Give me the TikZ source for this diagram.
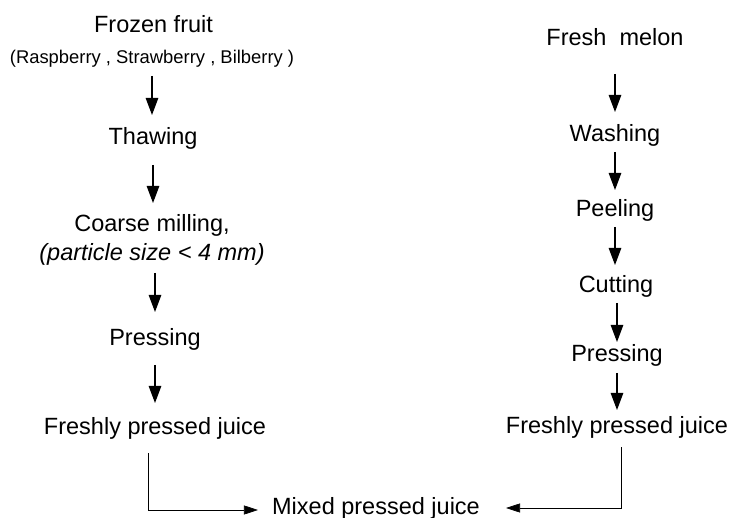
\documentclass[tikz,border=0pt]{standalone}
\usepackage{fontspec}
\setmainfont{Liberation Sans}
\usetikzlibrary{positioning,arrows.meta}

\begin{document}
\begin{tikzpicture}[x=1pt,y=-1pt,
	stage/.style={
	  font=\fontsize{23.5}{26}\selectfont,
	  inner sep=0pt,
	  anchor=base
	},
	small/.style={
	  stage,
	  font=\fontsize{18.4}{20}\selectfont
	},
	flow/.style={
	  -{Triangle[width=12.5pt,length=17pt]},
	  line width=1.1pt
	},
	link/.style={
	  -{Triangle[width=9pt,length=14pt]},
	  line width=0.6pt
	}]

	\useasboundingbox (0,0) rectangle (731,518);

	% fruit line
	\node[stage] (Frozen) at (153.5,33) {Frozen fruit};
	\node[small] (Berries) at (152,64) {(Raspberry , Strawberry , Bilberry )};
	\node[stage] (Thaw) at (153,145) {Thawing};
	\node[stage] (Mill) at (152,232) {Coarse milling,};
	\node[stage] (Size) at (152,261) {\itshape (particle size < 4 mm)};
	\node[stage] (PressL) at (155,346) {Pressing};
	\node[stage] (JuiceL) at (155,435) {Freshly pressed juice};

	% melon line
	\node[stage] (Melon) at (615,46) {Fresh~ melon};
	\node[stage] (Wash) at (615,142) {Washing};
	\node[stage] (Peel) at (615,217) {Peeling};
	\node[stage] (Cut) at (616,293) {Cutting};
	\node[stage] (PressR) at (617,362) {Pressing};
	\node[stage] (JuiceR) at (617,433) {Freshly pressed juice};

	\node[stage] (Mixed) at (376,514) {Mixed pressed juice};

	\draw[flow] ([yshift=-12pt]Berries.base) -- ([yshift=30pt]Thaw.base -| Berries.base);
	\draw[flow] ([yshift=-20pt]Thaw.base) -- ([yshift=29pt]Mill.base -| Thaw.base);
	\draw[flow] ([yshift=-12pt,xshift=3pt]Size.base) -- ([yshift=34pt]PressL.base);
	\draw[flow] ([yshift=-19pt]PressL.base) -- ([yshift=32pt]JuiceL.base);

	\draw[flow] ([yshift=-28pt]Melon.base) -- ([yshift=30pt]Wash.base);
	\draw[flow] ([yshift=-10pt]Wash.base) -- ([yshift=27pt]Peel.base);
	\draw[flow] ([yshift=-10pt]Peel.base) -- ([yshift=28pt]Cut.base -| Peel.base);
	\draw[flow] ([yshift=-10pt,xshift=1pt]Cut.base) -- ([yshift=20pt]PressR.base);
	\draw[flow] ([yshift=-11pt]PressR.base) -- ([yshift=23pt]JuiceR.base);

	\draw[link] ([xshift=-7pt,yshift=-18pt]JuiceL.base) |- ([xshift=-14pt,yshift=4pt]Mixed.base west);
	\draw[link] ([xshift=4pt,yshift=-14pt]JuiceR.base) |- ([xshift=26pt,yshift=6pt]Mixed.base east);
\end{tikzpicture}
\end{document}
